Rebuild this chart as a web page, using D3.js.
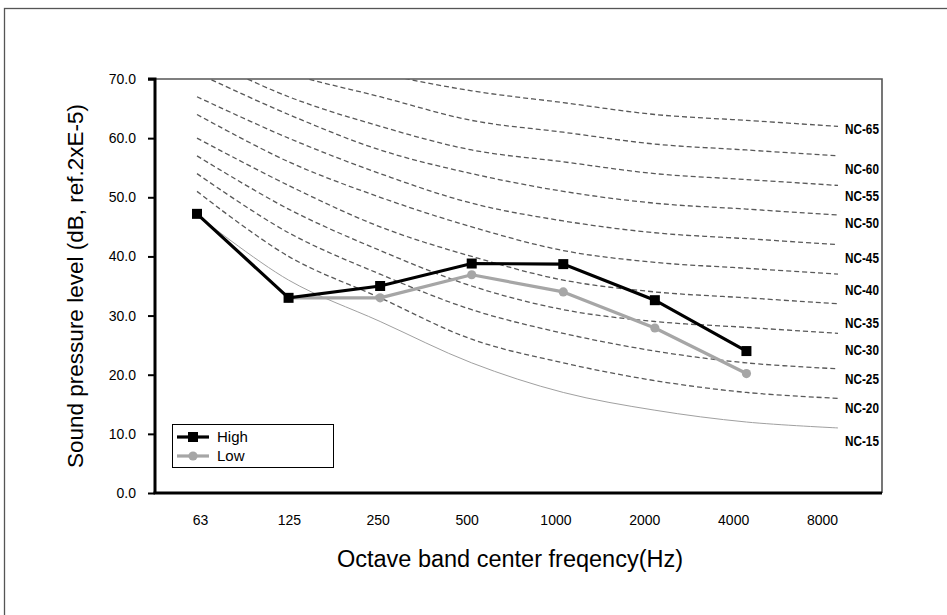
<!DOCTYPE html>
<html>
<head>
<meta charset="utf-8">
<script src="https://cdn.jsdelivr.net/npm/d3@7"></script>
<style>
  html, body { margin: 0; padding: 0; background: #fff; }
  svg { display: block; font-family: "Liberation Sans", Arial, sans-serif; }
</style>
</head>
<body>
<svg id="chart" width="947" height="615"></svg>
<script>
// ---- data ----
const categories = ["63", "125", "250", "500", "1000", "2000", "4000", "8000"];
const yTicks = [0, 10, 20, 30, 40, 50, 60, 70];
const highValues = [47.2, 33.0, 35.0, 38.8, 38.7, 32.6, 24.0, null];
const lowValues = [null, 33.0, 33.0, 36.9, 34.0, 27.9, 20.2, null];
const ncNames = ["NC-15", "NC-20", "NC-25", "NC-30", "NC-35", "NC-40", "NC-45", "NC-50", "NC-55", "NC-60", "NC-65"];
const nc15 = [47, 36, 29, 22, 17, 14, 12, 11];
const nc20 = [51, 40, 33, 26, 22, 19, 17, 16];
const nc25 = [54, 44, 37, 31, 27, 24, 22, 21];
const nc30 = [57, 48, 41, 35, 31, 29, 28, 27];
const nc35 = [60, 52, 45, 40, 36, 34, 33, 32];
const nc40 = [64, 56, 50, 45, 41, 39, 38, 37];
const nc45 = [67, 60, 54, 49, 46, 44, 43, 42];
const nc50 = [71, 64, 58, 54, 51, 49, 48, 47];
const nc55 = [74, 67, 62, 58, 56, 54, 53, 52];
const nc60 = [77, 71, 67, 63, 61, 59, 58, 57];
const nc65 = [80, 75, 71, 68, 66, 64, 63, 62];
const ncCurves = [nc15, nc20, nc25, nc30, nc35, nc40, nc45, nc50, nc55, nc60, nc65];
// label vertical positions (in dB) for the NC labels at right
const ncLabelPos = [8.8, 14.4, 19.2, 24.2, 28.7, 34.3, 39.7, 45.7, 50.2, 54.8, 61.6];
const seriesNames = ["High", "Low"];

// ---- layout ----
const svg = d3.select("#chart");
const plot = { left: 155, right: 882, top: 79, bottom: 493 };

const x = d3.scalePoint().domain(categories).range([197, 838]);
const xLabel = d3.scalePoint().domain(categories).range([200, 822]);
const y = d3.scaleLinear().domain([0, 70]).range([plot.bottom, plot.top]);

// outer frame (extends beyond the canvas on right and bottom)
svg.append("rect")
  .attr("x", 4.5).attr("y", 8.5).attr("width", 960).attr("height", 640)
  .attr("fill", "none").attr("stroke", "#555").attr("stroke-width", 1.3);

// plot frame top/right
svg.append("path")
  .attr("d", `M${plot.left},${plot.top}H${plot.right}V${plot.bottom}`)
  .attr("fill", "none").attr("stroke", "#555").attr("stroke-width", 1.6);

// clip
svg.append("clipPath").attr("id", "clip")
  .append("rect").attr("x", plot.left).attr("y", plot.top)
  .attr("width", plot.right - plot.left).attr("height", plot.bottom - plot.top);

const line = d3.line()
  .defined(d => d != null)
  .x((d, i) => x(categories[i]))
  .y(d => y(d))
  .curve(d3.curveCatmullRom.alpha(0.5));

const g = svg.append("g").attr("clip-path", "url(#clip)");
ncCurves.forEach((vals, k) => {
  g.append("path")
    .attr("d", line(vals))
    .attr("fill", "none")
    .attr("stroke", k === 0 ? "#a0a0a0" : "#595959")
    .attr("stroke-width", k === 0 ? 1 : 1.3)
    .attr("stroke-dasharray", k === 0 ? null : "5,3");
});

// NC labels
ncNames.forEach((name, k) => {
  svg.append("text")
    .attr("transform", `translate(845,${y(ncLabelPos[k])}) scale(0.84,1)`)
    .attr("dy", "0.36em")
    .attr("font-size", 14)
    .attr("font-weight", "bold")
    .attr("fill", "#000")
    .text(name);
});

// series
const lin = d3.line()
  .defined(d => d != null)
  .x((d, i) => x(categories[i]))
  .y(d => y(d));

function idxData(vals) { return vals.map((v, i) => ({ v, i })).filter(d => d.v != null); }

svg.append("path").attr("d", lin(lowValues)).attr("fill", "none")
  .attr("stroke", "#a6a6a6").attr("stroke-width", 3.2).attr("stroke-linejoin", "round");
svg.selectAll(".lowpt").data(idxData(lowValues)).enter().append("circle")
  .attr("cx", d => x(categories[d.i])).attr("cy", d => y(d.v)).attr("r", 4.6)
  .attr("fill", "#a6a6a6");

svg.append("path").attr("d", lin(highValues)).attr("fill", "none")
  .attr("stroke", "#000").attr("stroke-width", 3.2).attr("stroke-linejoin", "miter");
svg.selectAll(".highpt").data(idxData(highValues)).enter().append("rect")
  .attr("x", d => x(categories[d.i]) - 5).attr("y", d => y(d.v) - 5)
  .attr("width", 10).attr("height", 10).attr("fill", "#000");

// axes
const yAxis = d3.axisLeft(y).tickValues(yTicks).tickSize(7).tickPadding(12)
  .tickFormat(d3.format(".1f"));
const ya = svg.append("g").attr("transform", `translate(${plot.left},0)`).call(yAxis);
ya.select(".domain").attr("stroke", "#000").attr("stroke-width", 3)
  .attr("d", `M-7,${plot.top}H0V${plot.bottom}`);
ya.selectAll(".tick line").attr("stroke", "#000").attr("stroke-width", 2);
ya.selectAll(".tick text").attr("font-size", 14).attr("font-family", "Liberation Sans, Arial, sans-serif").attr("fill", "#000");

const xAxis = d3.axisBottom(xLabel).tickSize(0).tickPadding(22);
const xa = svg.append("g").attr("transform", `translate(0,${plot.bottom})`).call(xAxis);
xa.select(".domain").attr("stroke", "#000").attr("stroke-width", 3)
  .attr("d", `M${plot.left - 1.5},0H${plot.right}`);
xa.selectAll(".tick text").attr("font-size", 14).attr("font-family", "Liberation Sans, Arial, sans-serif").attr("fill", "#000");

// axis titles
svg.append("text")
  .attr("x", 510).attr("y", 567)
  .attr("text-anchor", "middle").attr("font-size", 23.5).attr("fill", "#000")
  .text("Octave band center freqency(Hz)");
svg.append("text")
  .attr("transform", `translate(83,${(plot.top + plot.bottom) / 2}) rotate(-90)`)
  .attr("text-anchor", "middle").attr("font-size", 22.5).attr("fill", "#000")
  .text("Sound pressure level (dB, ref.2xE-5)");

// legend
const lg = svg.append("g");
lg.append("rect").attr("x", 172.5).attr("y", 424.5).attr("width", 161).attr("height", 43)
  .attr("fill", "#fff").attr("stroke", "#000").attr("stroke-width", 1);
const legendRows = [
  { name: seriesNames[0], color: "#000", shape: "square", yy: 437 },
  { name: seriesNames[1], color: "#a6a6a6", shape: "circle", yy: 456 }
];
legendRows.forEach(r => {
  lg.append("line").attr("x1", 177).attr("x2", 209).attr("y1", r.yy).attr("y2", r.yy)
    .attr("stroke", r.color).attr("stroke-width", 3.2);
  if (r.shape === "square") {
    lg.append("rect").attr("x", 188).attr("y", r.yy - 5).attr("width", 10).attr("height", 10).attr("fill", r.color);
  } else {
    lg.append("circle").attr("cx", 193).attr("cy", r.yy).attr("r", 4.6).attr("fill", r.color);
  }
  lg.append("text").attr("x", 217).attr("y", r.yy).attr("dy", "0.36em")
    .attr("font-size", 15).attr("fill", "#000").text(r.name);
});
</script>
</body>
</html>
